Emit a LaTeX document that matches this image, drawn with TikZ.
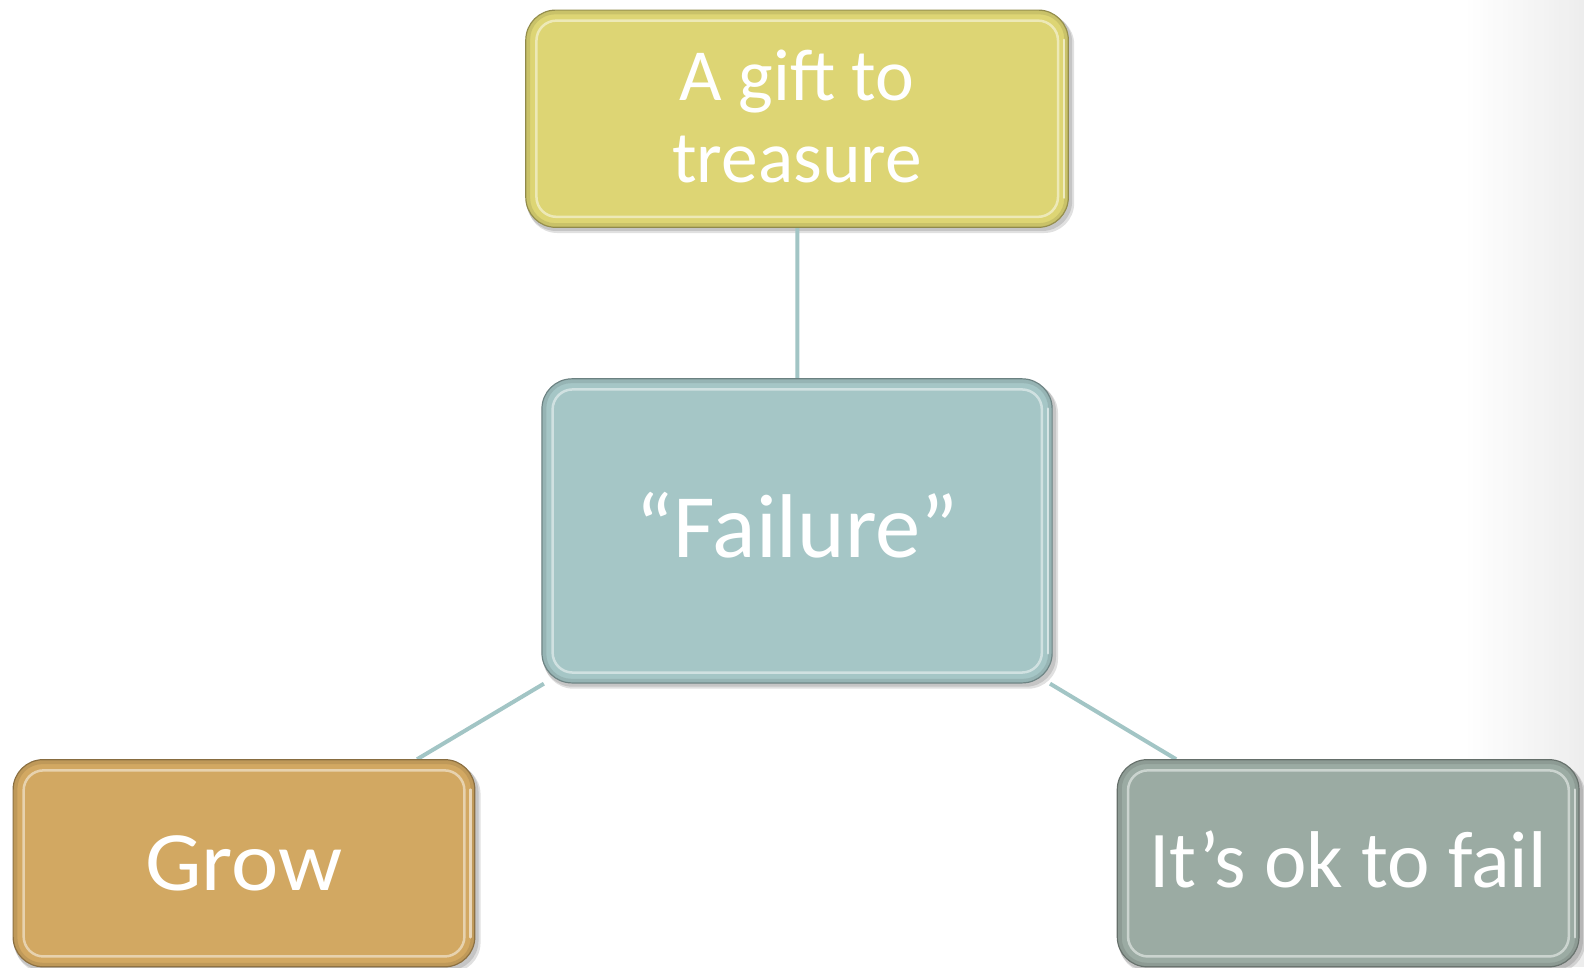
\documentclass[tikz,border=0pt]{standalone}
\usepackage{fontspec}
\setmainfont{Carlito}
\usetikzlibrary{backgrounds}
\definecolor{cyel}{HTML}{DDD574}
\definecolor{cteal}{HTML}{A5C6C6}
\definecolor{cgold}{HTML}{D2A862}
\definecolor{cgrey}{HTML}{9BABA3}
\definecolor{cline}{HTML}{A2C5C5}
\tikzset{
  box/.style={rounded corners=30bp, inner sep=0pt, align=center, text=white,
    draw=#1!65!black, line width=1.2bp, fill=#1, transform shape},
  conn/.style={draw=cline, line width=4bp},
  bevel/.style={draw=#1!35!white, line width=2.5bp, rounded corners=20bp, opacity=0.75},
  rimdark/.style={draw=#1!75!black, line width=4bp, rounded corners=27bp, opacity=0.35},
  rimlight/.style={draw=#1!30!white, line width=2.5bp, opacity=0.8, line cap=round},
  shadowbox/.style={fill=black, opacity=0.12, rounded corners=30bp},
}
\newcommand{\boxdeco}[2]{%
  \begin{scope}[on background layer]
    \fill[shadowbox] ([xshift=2bp,yshift=-5bp]#1.north west) rectangle ([xshift=5bp,yshift=-5bp]#1.south east);
    \fill[shadowbox] ([xshift=1bp,yshift=-3bp]#1.north west) rectangle ([xshift=3bp,yshift=-3bp]#1.south east);
  \end{scope}
  \draw[rimdark=#2] ([xshift=2.8bp,yshift=-2.8bp]#1.north west) rectangle ([xshift=-2.8bp,yshift=2.8bp]#1.south east);
  \draw[bevel=#2] ([xshift=11bp,yshift=-11bp]#1.north west) rectangle ([xshift=-11bp,yshift=11bp]#1.south east);
  \draw[rimlight=#2] ([xshift=-5bp,yshift=-30bp]#1.north east) -- ([xshift=-5bp,yshift=30bp]#1.south east);
}
\begin{document}
\begin{tikzpicture}[x=1bp,y=-1bp,scale=1.0102]
\useasboundingbox (0,0) rectangle (1568,957.24);
\begin{scope}[on background layer]
\foreach \i in {0,...,23} {
  \pgfmathsetmacro{\shadeval}{\i*0.3}
  \fill[black!\shadeval] (1448+5*\i,0) rectangle (1568.5,957.24);
}
\end{scope}

\node[box=cyel, minimum width=537bp, minimum height=215bp,
  font=\fontsize{73}{82}\selectfont] (t) at (789,117.5)
  {\raisebox{2bp}[\height][\depth]{A gift to}\\[-1bp]\raisebox{2bp}[\height][\depth]{treasure}};
\node[box=cteal, minimum width=505bp, minimum height=301bp,
  font=\fontsize{90}{96}\selectfont] (c) at (789,525.5)
  {\raisebox{6bp}[\height][\depth]{“Failure”}};
\node[box=cgold, minimum width=457bp, minimum height=205bp,
  font=\fontsize{84}{90}\selectfont] (g) at (241.5,854.5) {\scalebox{1.06}[1]{Grow}};
\node[box=cgrey, minimum width=457bp, minimum height=205bp,
  font=\fontsize{80}{86}\selectfont] (r) at (1334.5,854.5)
  {\raisebox{4bp}[\height][\depth]{It’s ok to fail}};

\boxdeco{t}{cyel}
\boxdeco{c}{cteal}
\boxdeco{g}{cgold}
\boxdeco{r}{cgrey}

\begin{scope}[on background layer]
  \draw[conn] (t) -- (c);
  \draw[conn] (c) -- (g);
  \draw[conn] (c) -- (r);
\end{scope}
\end{tikzpicture}
\end{document}
